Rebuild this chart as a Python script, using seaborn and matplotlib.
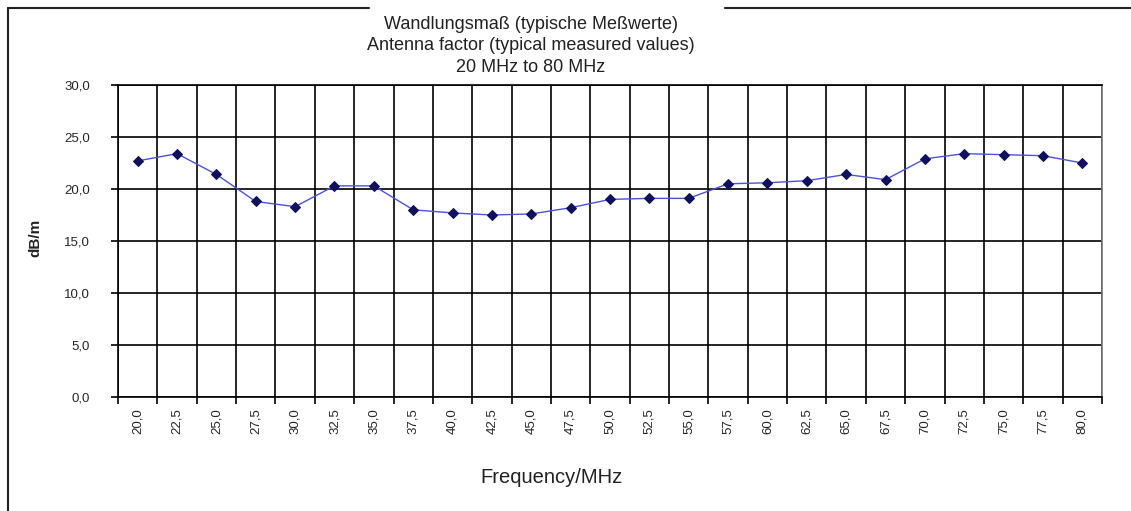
import pandas as pd
import seaborn as sns
import matplotlib.pyplot as plt
from matplotlib.lines import Line2D
from matplotlib.ticker import FixedLocator, FuncFormatter

# frequencies (MHz) and antenna factor values (dB/m)
freq = [20.0, 22.5, 25.0, 27.5, 30.0, 32.5, 35.0, 37.5, 40.0, 42.5, 45.0, 47.5, 50.0,
        52.5, 55.0, 57.5, 60.0, 62.5, 65.0, 67.5, 70.0, 72.5, 75.0, 77.5, 80.0]
factor = [22.7, 23.4, 21.4, 18.8, 18.3, 20.3, 20.3, 18.0, 17.7, 17.5, 17.6, 18.2, 19.0,
          19.1, 19.1, 20.5, 20.6, 20.8, 21.4, 20.9, 22.9, 23.4, 23.3, 23.2, 22.5]
y_ticks = [0, 5, 10, 15, 20, 25, 30]

labels = [f"{f:.1f}".replace('.', ',') for f in freq]
df = pd.DataFrame({'freq': labels, 'factor': factor})

sns.set_style("white")
plt.rcParams['font.family'] = ['Liberation Sans', 'DejaVu Sans']

fig = plt.figure(figsize=(11.31, 5.11), dpi=100)
ax = fig.add_axes([118 / 1131, 1 - 397 / 511, (1102 - 118) / 1131, (397 - 85) / 511])

sns.lineplot(data=df, x='freq', y='factor', ax=ax, color='#5050e0', linewidth=1.0,
             marker='D', markersize=5, markerfacecolor='#101060', markeredgecolor='#101060',
             sort=False, zorder=3)

n = len(freq)
ax.set_xlim(-0.5, n - 0.5)
ax.set_ylim(0, 30)

# category boundaries carry the vertical grid
ax.xaxis.set_minor_locator(FixedLocator([i - 0.5 for i in range(n + 1)]))
ax.set_xticks(range(n))
ax.set_xticklabels(labels, rotation=90, fontsize=9.5)
ax.tick_params(axis='x', which='major', bottom=False, length=0, pad=8)
ax.tick_params(axis='x', which='minor', bottom=True, length=5, width=1.2, color='black',
               direction='out')
ax.grid(True, axis='x', which='minor', color='black', linewidth=1.2)
ax.grid(False, axis='x', which='major')

ax.set_yticks(y_ticks)
ax.yaxis.set_major_formatter(FuncFormatter(lambda v, p: f"{v:.1f}".replace('.', ',')))
ax.tick_params(axis='y', which='major', left=True, length=5, width=1.2, color='black',
               direction='out', labelsize=9.5, pad=15)
ax.grid(True, axis='y', which='major', color='black', linewidth=1.2)
for gl in ax.get_ygridlines():
    if abs(gl.get_ydata()[0] - 10) < 1e-6:
        gl.set_color('#9a9a9a')

for s in ax.spines.values():
    s.set_color('black')
    s.set_linewidth(1.2)
ax.spines['right'].set_color('#777777')

ax.set_xlabel('')
ax.set_ylabel('')
fig.text(35 / 1131, 1 - 238 / 511, 'dB/m', rotation=90, fontsize=11, fontweight='bold',
         ha='center', va='center', color='#222222')
fig.text(551 / 1131, 1 - 477 / 511, 'Frequency/MHz', fontsize=14.5, ha='center', va='center',
         color='#222222')
fig.text(531 / 1131, 1 - 46 / 511,
         'Wandlungsmaß (typische Meßwerte)\nAntenna factor (typical measured values)\n20 MHz to 80 MHz',
         fontsize=13, ha='center', va='center', linespacing=1.38, color='#222222')

# outer frame with a gap for the title
fig.add_artist(Line2D([8 / 1131, 8 / 1131], [1 - 8 / 511, 0], color='#222222', linewidth=1.5))
fig.add_artist(Line2D([8 / 1131, 369 / 1131], [1 - 8 / 511, 1 - 8 / 511], color='#222222', linewidth=1.5))
fig.add_artist(Line2D([725 / 1131, 1], [1 - 8 / 511, 1 - 8 / 511], color='#222222', linewidth=1.5))

fig.savefig('out.png', dpi=100)
